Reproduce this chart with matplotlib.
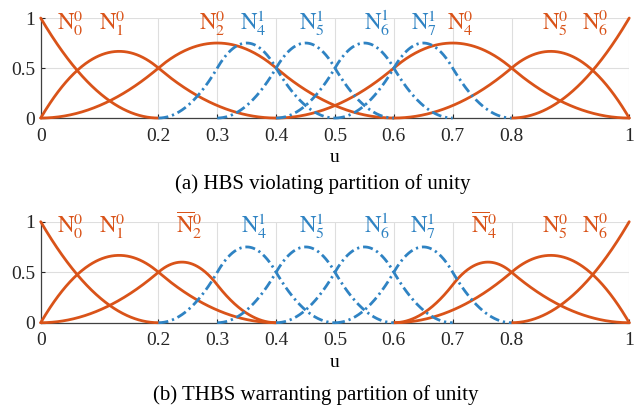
import numpy as np
import matplotlib
matplotlib.use('Agg')
import matplotlib.pyplot as plt

# --- data: knot vectors of the two levels (quadratic B-splines) ---
DEGREE = 2
knots0 = [0, 0, 0, 0.2, 0.4, 0.6, 0.8, 1, 1, 1]
knots1 = [0, 0, 0, 0.1, 0.2, 0.3, 0.4, 0.5, 0.6, 0.7, 0.8, 0.9, 1, 1, 1]
active0 = [0, 1, 2, 4, 5, 6]   # level-0 functions kept (N3 refined)
active1 = [4, 5, 6, 7]         # level-1 functions added
# truncated level-0 functions in (b): level-1 index -> coefficient
trunc_coeffs = {2: {2: 0.25, 3: 0.75},
                4: {8: 0.75, 9: 0.25}}

xticks = [0, 0.2, 0.3, 0.4, 0.5, 0.6, 0.7, 0.8, 1]
xticklabels = ['0', '0.2', '0.3', '0.4', '0.5', '0.6', '0.7', '0.8', '1']
yticks = [0, 0.5, 1]
yticklabels = ['0', '0.5', '1']

labels_a = [(r'$\mathrm{N}_0^0$', 0.028, 'o'), (r'$\mathrm{N}_1^0$', 0.099, 'o'),
            (r'$\mathrm{N}_2^0$', 0.269, 'o'), (r'$\mathrm{N}_4^1$', 0.338, 'b'),
            (r'$\mathrm{N}_5^1$', 0.439, 'b'), (r'$\mathrm{N}_6^1$', 0.550, 'b'),
            (r'$\mathrm{N}_7^1$', 0.629, 'b'), (r'$\mathrm{N}_4^0$', 0.691, 'o'),
            (r'$\mathrm{N}_5^0$', 0.851, 'o'), (r'$\mathrm{N}_6^0$', 0.920, 'o')]
labels_b = [(r'$\mathrm{N}_0^0$', 0.028, 'o'), (r'$\mathrm{N}_1^0$', 0.099, 'o'),
            (r'$\overline{\mathrm{N}}_2^0$', 0.230, 'o'), (r'$\mathrm{N}_4^1$', 0.340, 'b'),
            (r'$\mathrm{N}_5^1$', 0.439, 'b'), (r'$\mathrm{N}_6^1$', 0.550, 'b'),
            (r'$\mathrm{N}_7^1$', 0.627, 'b'), (r'$\overline{\mathrm{N}}_4^0$', 0.731, 'o'),
            (r'$\mathrm{N}_5^0$', 0.851, 'o'), (r'$\mathrm{N}_6^0$', 0.920, 'o')]

ORANGE = '#D95319'
BLUE = '#2F83C3'
colors = {'o': ORANGE, 'b': BLUE}

plt.rcParams['font.family'] = ['Liberation Serif', 'DejaVu Serif']
plt.rcParams['mathtext.fontset'] = 'stix'


def basis(knots, i, p, u):
    # Cox-de Boor recursion
    if p == 0:
        lo, hi = knots[i], knots[i + 1]
        if hi == knots[-1] and lo < hi:
            return ((u >= lo) & (u <= hi)).astype(float)
        return ((u >= lo) & (u < hi)).astype(float)
    out = np.zeros_like(u)
    d1 = knots[i + p] - knots[i]
    d2 = knots[i + p + 1] - knots[i + 1]
    if d1 > 0:
        out += (u - knots[i]) / d1 * basis(knots, i, p - 1, u)
    if d2 > 0:
        out += (knots[i + p + 1] - u) / d2 * basis(knots, i + 1, p - 1, u)
    return out


def support(knots, i):
    return knots[i], knots[i + DEGREE + 1]


def draw_fn(ax, lo, hi, f, color, ls):
    u = np.linspace(lo, hi, 300)
    ax.plot(u, f(u), color=color, lw=2.0, linestyle=ls, clip_on=False,
            solid_capstyle='round', zorder=3)


DASHDOT = (0, (3.6, 1.4, 0.8, 1.4))

fig = plt.figure(figsize=(6.39, 4.07), dpi=100)
ax_a = fig.add_axes([0.0637, 0.710, 0.921, 0.2457])
ax_b = fig.add_axes([0.0637, 0.2071, 0.921, 0.2482])

for k, ax in enumerate([ax_a, ax_b]):
    for i in active0:
        if k == 1 and i in trunc_coeffs:
            coeffs = trunc_coeffs[i]
            lo = min(support(knots1, j)[0] for j in coeffs)
            hi = max(support(knots1, j)[1] for j in coeffs)
            f = lambda u, c=coeffs: sum(w * basis(knots1, j, DEGREE, u) for j, w in c.items())
        else:
            lo, hi = support(knots0, i)
            f = lambda u, i=i: basis(knots0, i, DEGREE, u)
        draw_fn(ax, lo, hi, f, ORANGE, '-')
    for i in active1:
        lo, hi = support(knots1, i)
        draw_fn(ax, lo, hi, lambda u, i=i: basis(knots1, i, DEGREE, u), BLUE, DASHDOT)

    ax.set_xlim(0, 1)
    ax.set_ylim(0, 1)
    ax.set_xticks(xticks)
    ax.set_xticklabels(xticklabels)
    ax.set_yticks(yticks)
    ax.set_yticklabels(yticklabels)
    ax.tick_params(direction='in', length=3, width=0.8, labelsize=14,
                   color='#262626', labelcolor='#262626')
    ax.tick_params(axis='x', pad=7)
    ax.tick_params(axis='y', pad=4)
    ax.grid(True, color='#dedede', lw=0.8)
    ax.set_axisbelow(True)
    for s in ['top', 'right']:
        ax.spines[s].set_visible(False)
    for s in ['left', 'bottom']:
        ax.spines[s].set_color('#404040')
        ax.spines[s].set_linewidth(0.9)
    ax.set_xlabel('u', fontsize=14, labelpad=3)

    for txt, x, c in (labels_a if k == 0 else labels_b):
        ax.text(x, 0.885, txt, color=colors[c], fontsize=16.5, va='baseline',
                ha='left', zorder=4)

fig.text(0.505, 0.548, '(a) HBS violating partition of unity', ha='center',
         va='center', fontsize=15)
fig.text(0.494, 0.030, '(b) THBS warranting partition of unity', ha='center',
         va='center', fontsize=15)

fig.savefig('out.png', dpi=100)
